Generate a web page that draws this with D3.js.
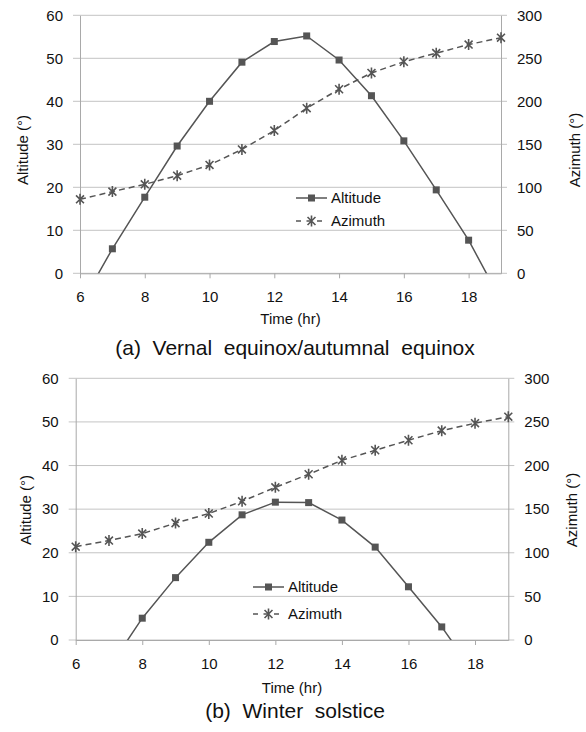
<!DOCTYPE html>
<html>
<head>
<meta charset="utf-8">
<script src="https://cdn.jsdelivr.net/npm/d3@7"></script>
<style>
  body { margin: 0; background: #fff; }
  text { font-family: "Liberation Sans", Arial, sans-serif; fill: #111; }
</style>
</head>
<body>
<svg id="chart" width="586" height="732"></svg>
<script>
// hours of the day (x axis)
const hours = [6, 7, 8, 9, 10, 11, 12, 13, 14, 15, 16, 17, 18, 19];

// (a) vernal / autumnal equinox
const altitudeEquinox = [-7.6, 5.7, 17.7, 29.6, 40.0, 49.1, 53.9, 55.2, 49.6, 41.3, 30.8, 19.4, 7.7, -6.3];
const azimuthEquinox = [86, 95, 103.5, 113.5, 126, 144, 166, 192, 214, 233, 246, 256, 266, 274];

// (b) winter solstice
const altitudeWinter = [null, -6.4, 5.0, 14.3, 22.4, 28.7, 31.6, 31.5, 27.5, 21.3, 12.2, 3.0, -7.8, null];
const azimuthWinter = [107, 114, 122, 134, 145, 159, 175, 190, 206, 217.5, 229, 240, 248.5, 256];

const xTicks = [6, 8, 10, 12, 14, 16, 18];
const altTicks = [0, 10, 20, 30, 40, 50, 60];
const aziTicks = [0, 50, 100, 150, 200, 250, 300];

const seriesNames = ["Altitude", "Azimuth"];
const captions = ["(a)  Vernal  equinox/autumnal  equinox", "(b)  Winter  solstice"];

const lineColor = "#555555";
const gridColor = "#c4c4c4";
const axisColor = "#a9a9a9";

const svg = d3.select("#chart");

function starPath(r) {
  let d = r * 0.72;
  return `M0,${-r}L0,${r}M${-d},${-d}L${d},${d}M${-d},${d}L${d},${-d}`;
}

function drawPanel(p, idx) {
  let g = svg.append("g");

  let x = d3.scaleLinear().domain([6, 19]).range([p.left, p.right]);
  let yAlt = d3.scaleLinear().domain([0, 60]).range([p.bottom, p.top]);
  let yAzi = d3.scaleLinear().domain([0, 300]).range([p.bottom, p.top]);

  // gridlines
  g.selectAll(".grid")
    .data(altTicks)
    .join("line")
    .attr("x1", p.left - 7)
    .attr("x2", p.right + 6)
    .attr("y1", d => yAlt(d))
    .attr("y2", d => yAlt(d))
    .attr("stroke", gridColor)
    .attr("stroke-width", 1);

  // axes
  let leftAxis = g.append("g")
    .attr("transform", `translate(${p.left},0)`)
    .attr("color", axisColor)
    .call(d3.axisLeft(yAlt).tickValues(altTicks).tickSize(0).tickSizeOuter(0).tickPadding(17));
  let rightAxis = g.append("g")
    .attr("transform", `translate(${p.right},0)`)
    .attr("color", axisColor)
    .call(d3.axisRight(yAzi).tickValues(aziTicks).tickSize(0).tickSizeOuter(0).tickPadding(16));
  let bottomAxis = g.append("g")
    .attr("transform", `translate(0,${p.bottom})`)
    .attr("color", axisColor)
    .call(d3.axisBottom(x).tickValues(xTicks).tickSize(5).tickSizeOuter(0).tickPadding(13));
  [leftAxis, rightAxis, bottomAxis].forEach(a => {
    a.selectAll("text").style("font-size", "15px").style("font-family", '"Liberation Sans", Arial, sans-serif');
  });

  // axis titles
  g.append("text")
    .attr("transform", `translate(${p.altTitleX},${p.titleY}) rotate(-90)`)
    .attr("text-anchor", "middle")
    .style("font-size", "15px")
    .text("Altitude (°)");
  g.append("text")
    .attr("transform", `translate(${p.aziTitleX},${p.titleY}) rotate(-90)`)
    .attr("text-anchor", "middle")
    .style("font-size", "15px")
    .text("Azimuth (°)");
  g.append("text")
    .attr("x", (p.left + p.right) / 2)
    .attr("y", p.timeY)
    .attr("text-anchor", "middle")
    .style("font-size", "15px")
    .text("Time (hr)");
  g.append("text")
    .attr("x", 295)
    .attr("y", p.captionY)
    .attr("text-anchor", "middle")
    .style("font-size", "21px")
    .style("white-space", "pre")
    .text(captions[idx]);

  // clip to plot area
  let clipId = "clip" + idx;
  svg.append("clipPath").attr("id", clipId)
    .append("rect")
    .attr("x", p.left - 6).attr("y", p.top - 6)
    .attr("width", p.right - p.left + 12)
    .attr("height", p.bottom - p.top + 6);

  let plot = g.append("g").attr("clip-path", `url(#${clipId})`);

  let altData = hours.map((h, i) => ({h: h, v: p.alt[i]}));
  let aziData = hours.map((h, i) => ({h: h, v: p.azi[i]}));

  let aziLine = d3.line().defined(d => d.v != null).x(d => x(d.h)).y(d => yAzi(d.v));
  let altLine = d3.line().defined(d => d.v != null).x(d => x(d.h)).y(d => yAlt(d.v));

  plot.append("path")
    .attr("d", aziLine(aziData))
    .attr("fill", "none")
    .attr("stroke", lineColor)
    .attr("stroke-width", 1.5)
    .attr("stroke-dasharray", "6,4");
  plot.selectAll(".star")
    .data(aziData.filter(d => d.v != null))
    .join("path")
    .attr("transform", d => `translate(${x(d.h)},${yAzi(d.v)})`)
    .attr("d", starPath(5.5))
    .attr("stroke", lineColor)
    .attr("stroke-width", 1.6)
    .attr("fill", "none");

  plot.append("path")
    .attr("d", altLine(altData))
    .attr("fill", "none")
    .attr("stroke", lineColor)
    .attr("stroke-width", 1.5);
  plot.selectAll(".sq")
    .data(altData.filter(d => d.v != null && d.v >= 0))
    .join("rect")
    .attr("x", d => x(d.h) - 3.5)
    .attr("y", d => yAlt(d.v) - 3.5)
    .attr("width", 7)
    .attr("height", 7)
    .attr("fill", lineColor);

  // legend
  let lg = g.append("g");
  let lx0 = p.legendX, lx1 = p.legendX + 31;
  lg.append("line")
    .attr("x1", lx0).attr("x2", lx1)
    .attr("y1", p.legendY[0]).attr("y2", p.legendY[0])
    .attr("stroke", lineColor).attr("stroke-width", 1.5);
  lg.append("rect")
    .attr("x", (lx0 + lx1) / 2 - 3.5).attr("y", p.legendY[0] - 3.5)
    .attr("width", 7).attr("height", 7)
    .attr("fill", lineColor);
  lg.append("line")
    .attr("x1", lx0).attr("x2", lx1)
    .attr("y1", p.legendY[1]).attr("y2", p.legendY[1])
    .attr("stroke", lineColor).attr("stroke-width", 1.5)
    .attr("stroke-dasharray", "5,5.5");
  lg.append("path")
    .attr("transform", `translate(${(lx0 + lx1) / 2},${p.legendY[1]})`)
    .attr("d", starPath(5.5))
    .attr("stroke", lineColor).attr("stroke-width", 1.6).attr("fill", "none");
  lg.selectAll(".lt")
    .data(seriesNames)
    .join("text")
    .attr("x", lx1 + 4)
    .attr("y", (d, i) => p.legendY[i])
    .attr("dy", "0.35em")
    .style("font-size", "15px")
    .text(d => d);
}

const panels = [
  {left: 80, right: 501, top: 15.3, bottom: 273.3, alt: altitudeEquinox, azi: azimuthEquinox,
   altTitleX: 28, aziTitleX: 580, titleY: 150, timeY: 324, captionY: 355,
   legendX: 296, legendY: [198, 221]},
  {left: 75.7, right: 508.3, top: 378.3, bottom: 640, alt: altitudeWinter, azi: azimuthWinter,
   altTitleX: 31, aziTitleX: 577, titleY: 510, timeY: 693, captionY: 718,
   legendX: 253, legendY: [587, 614]}
];

panels.forEach((p, i) => drawPanel(p, i));
</script>
</body>
</html>
